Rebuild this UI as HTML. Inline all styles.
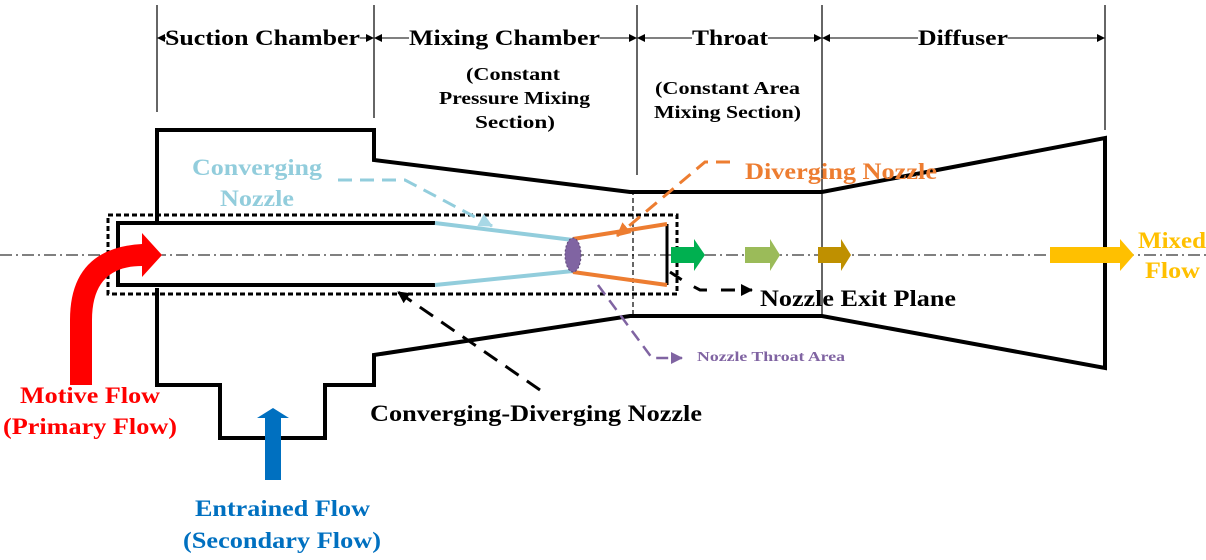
<!DOCTYPE html><html><head><style>body{margin:0;background:#fff}svg{display:block}text{font-family:"Liberation Serif",serif;font-weight:bold}</style></head><body>
<svg width="1206" height="560" viewBox="0 0 1206 560">
<defs>
<marker id="ab" markerWidth="8" markerHeight="8" refX="7" refY="4" orient="auto" markerUnits="userSpaceOnUse"><path d="M0,0L8,4L0,8z" fill="#000"/></marker>
<marker id="ak" markerWidth="12" markerHeight="12" refX="11" refY="6" orient="auto" markerUnits="userSpaceOnUse"><path d="M0,0L12,6L0,12z" fill="#000"/></marker>
<marker id="al" markerWidth="14" markerHeight="14" refX="13" refY="7" orient="auto" markerUnits="userSpaceOnUse"><path d="M0,0L14,7L0,14z" fill="#a8d8e6"/></marker>
<marker id="ao" markerWidth="14" markerHeight="14" refX="13" refY="7" orient="auto" markerUnits="userSpaceOnUse"><path d="M0,0L14,7L0,14z" fill="#ed7d31"/></marker>
<marker id="ap" markerWidth="12" markerHeight="12" refX="11" refY="6" orient="auto" markerUnits="userSpaceOnUse"><path d="M0,0L12,6L0,12z" fill="#8064a2"/></marker>
</defs>
<line x1="0" y1="255" x2="1206" y2="255" stroke="#000" stroke-width="1" stroke-dasharray="12,4,2,4"/>
<g stroke="#000" stroke-width="1.2">
<line x1="157" y1="5" x2="157" y2="112"/><line x1="374" y1="5" x2="374" y2="118"/>
<line x1="637" y1="5" x2="637" y2="175"/><line x1="822" y1="5" x2="822" y2="316"/>
<line x1="1105" y1="5" x2="1105" y2="130"/>
<line x1="633" y1="190" x2="633" y2="318" stroke-dasharray="5,3"/>
</g>
<g stroke="#000" stroke-width="1">
<line x1="166" y1="38" x2="158" y2="38" marker-end="url(#ab)"/>
<line x1="360" y1="38" x2="373" y2="38" marker-end="url(#ab)"/>
<line x1="409" y1="38" x2="375" y2="38" marker-end="url(#ab)"/>
<line x1="600" y1="38" x2="636" y2="38" marker-end="url(#ab)"/>
<line x1="692" y1="38" x2="638" y2="38" marker-end="url(#ab)"/>
<line x1="768" y1="38" x2="821" y2="38" marker-end="url(#ab)"/>
<line x1="918" y1="38" x2="823" y2="38" marker-end="url(#ab)"/>
<line x1="1008" y1="38" x2="1104" y2="38" marker-end="url(#ab)"/>
</g>
<g fill="none" stroke="#000" stroke-width="4" stroke-linejoin="miter">
<polyline points="157,222 157,130 374,130 374,160 630,192 822,192 1105,138 1105,368 822,316 630,316 374,355 374,385 325,385 325,438 220,438 220,385 157,385 157,288"/>
<polyline points="435,223 118,223 118,285 435,285"/>
<line x1="667" y1="224" x2="667" y2="285" stroke-width="3"/>
</g>
<rect x="108" y="215" width="569" height="79" fill="none" stroke="#000" stroke-width="3" stroke-dasharray="5,3"/>
<g stroke="#92cddc" stroke-width="4"><line x1="435" y1="223" x2="573" y2="240"/><line x1="435" y1="285" x2="573" y2="271"/></g>
<g stroke="#ed7d31" stroke-width="4"><line x1="573" y1="239" x2="667" y2="224"/><line x1="573" y1="272" x2="667" y2="285"/></g>
<ellipse cx="573" cy="255" rx="8" ry="17" fill="#8064a2" stroke="#5f497a" stroke-dasharray="2,2"/>
<polyline points="338,180 405,180 492,226" fill="none" stroke="#92cddc" stroke-width="3" stroke-dasharray="14,8" marker-end="url(#al)"/>
<polyline points="730,162 705,162 617,236" fill="none" stroke="#ed7d31" stroke-width="3" stroke-dasharray="14,8" marker-end="url(#ao)"/>
<line x1="540" y1="390" x2="398" y2="292" stroke="#000" stroke-width="3" stroke-dasharray="16,10" marker-end="url(#ak)"/>
<polyline points="598,285 652,358 682,358" fill="none" stroke="#8064a2" stroke-width="2.5" stroke-dasharray="12,7" marker-end="url(#ap)"/>
<polyline points="670,272 685,282 700,290 752,290" fill="none" stroke="#000" stroke-width="3" stroke-dasharray="14,14" marker-end="url(#ak)"/>
<path d="M671,247h23v-8l11,16l-11,16v-8h-23z" fill="#00b050"/>
<path d="M745,247h25v-8l10,16l-10,16v-8h-25z" fill="#9bbb59"/>
<path d="M818,247h23v-8l10,16l-10,16v-8h-23z" fill="#bf9000"/>
<path d="M1050,247h70v-8l14,16l-14,16v-8h-70z" fill="#ffc000"/>
<path d="M70,385V320Q70,248 142,244V233L162,255L142,277V266Q92,266 92,320V385z" fill="#f00"/>
<path d="M265,480V418h-8l16,-10l16,10h-8v62z" fill="#0070c0"/>
<g font-size="22" lengthAdjust="spacingAndGlyphs">
<text x="165" y="45" textLength="195" lengthAdjust="spacingAndGlyphs">Suction Chamber</text>
<text x="409" y="45" textLength="191" lengthAdjust="spacingAndGlyphs">Mixing Chamber</text>
<text x="692" y="45" textLength="76" lengthAdjust="spacingAndGlyphs">Throat</text>
<text x="918" y="45" textLength="90" lengthAdjust="spacingAndGlyphs">Diffuser</text>
</g>
<g font-size="18">
<text x="466" y="80" textLength="94" lengthAdjust="spacingAndGlyphs">(Constant</text>
<text x="439" y="104" textLength="151" lengthAdjust="spacingAndGlyphs">Pressure Mixing</text>
<text x="475" y="128" textLength="80" lengthAdjust="spacingAndGlyphs">Section)</text>
<text x="655" y="94" textLength="145" lengthAdjust="spacingAndGlyphs">(Constant Area</text>
<text x="654" y="118" textLength="147" lengthAdjust="spacingAndGlyphs">Mixing Section)</text>
</g>
<g font-size="23">
<text x="192" y="175" fill="#92cddc" textLength="130" lengthAdjust="spacingAndGlyphs">Converging</text>
<text x="220" y="206" fill="#92cddc" textLength="74" lengthAdjust="spacingAndGlyphs">Nozzle</text>
<text x="745" y="179" fill="#ed7d31" textLength="192" lengthAdjust="spacingAndGlyphs">Diverging Nozzle</text>
<text x="760" y="306" fill="#000" textLength="196" lengthAdjust="spacingAndGlyphs">Nozzle Exit Plane</text>
<text x="1138" y="248" fill="#ffc000" textLength="68" lengthAdjust="spacingAndGlyphs">Mixed</text>
<text x="1145" y="278" fill="#ffc000" textLength="55" lengthAdjust="spacingAndGlyphs">Flow</text>
<text x="20" y="403" fill="#f00" textLength="140" lengthAdjust="spacingAndGlyphs">Motive Flow</text>
<text x="3" y="434" fill="#f00" textLength="174" lengthAdjust="spacingAndGlyphs">(Primary Flow)</text>
<text x="370" y="421" fill="#000" textLength="332" lengthAdjust="spacingAndGlyphs">Converging-Diverging Nozzle</text>
<text x="195" y="516" fill="#0070c0" textLength="175" lengthAdjust="spacingAndGlyphs">Entrained Flow</text>
<text x="183" y="548" fill="#0070c0" textLength="198" lengthAdjust="spacingAndGlyphs">(Secondary Flow)</text>
</g>
<text x="697" y="361" font-size="14" fill="#8064a2" textLength="148" lengthAdjust="spacingAndGlyphs">Nozzle Throat Area</text>
</svg></body></html>
